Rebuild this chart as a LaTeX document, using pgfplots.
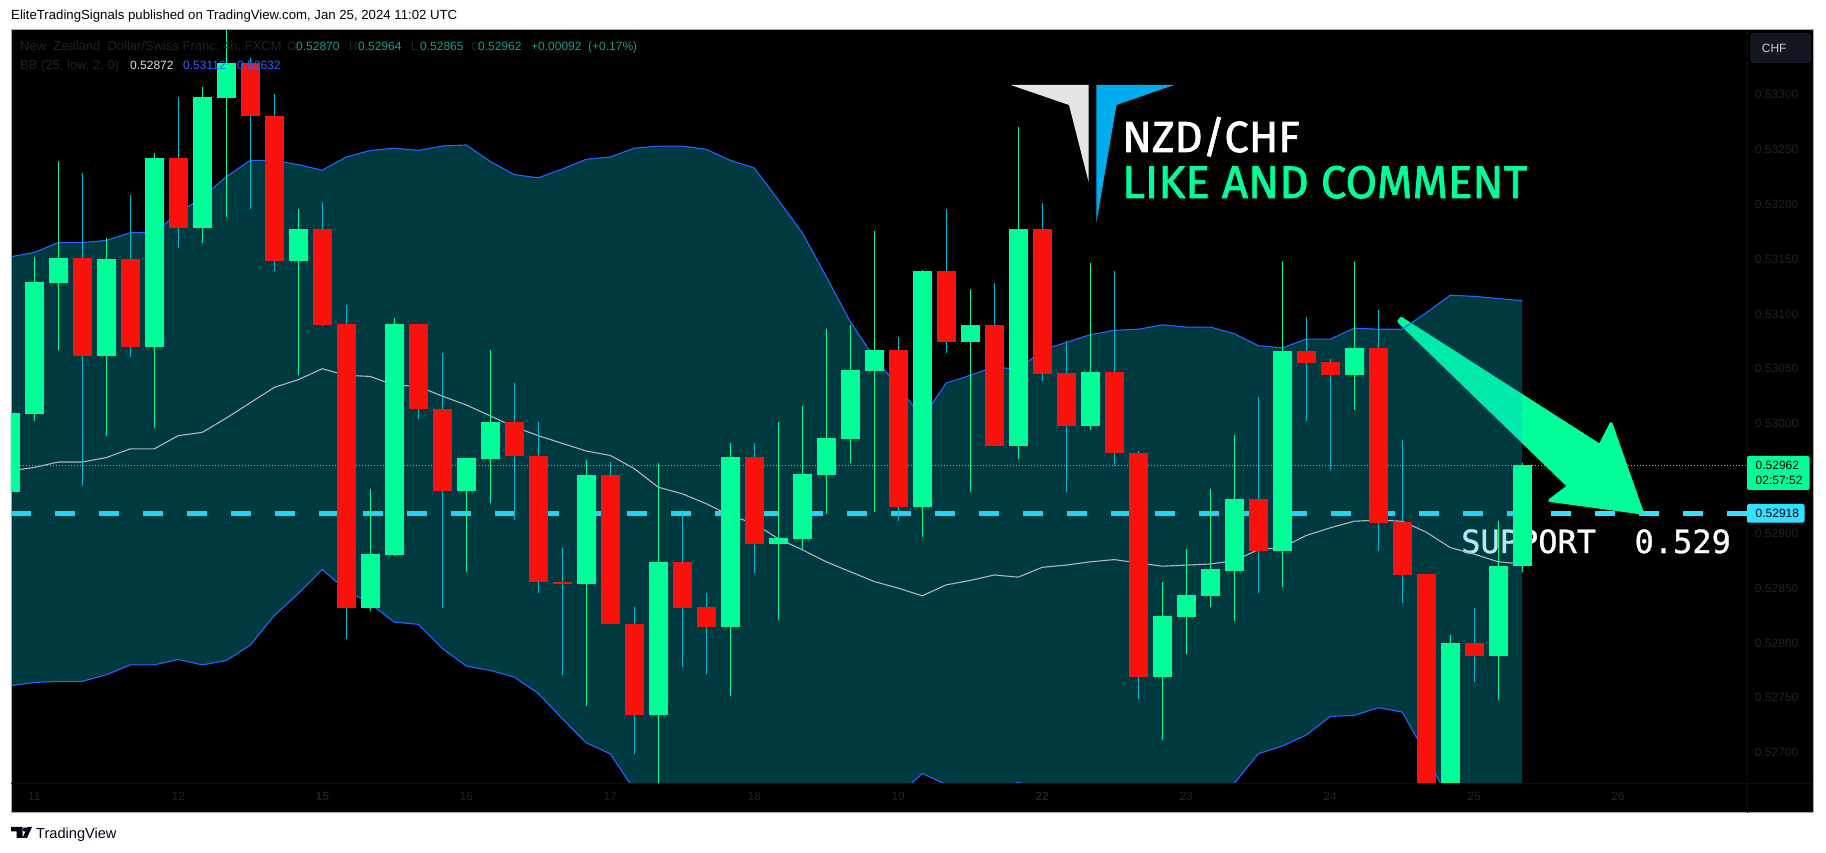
\documentclass[border=0pt]{standalone}
\usepackage{fontspec}
\usepackage{pgfplots}
\usepackage{pgfplotstable}
\pgfplotsset{compat=1.18}
\setmainfont{Liberation Sans}
\newfontfamily\annot{Fira Sans}[FakeBold=1.6]
\newfontfamily\supp{DejaVu Sans Mono}[FakeBold=0.9]
\definecolor{cgreen}{RGB}{0,255,153}
\definecolor{cred}{RGB}{247,18,13}
\definecolor{wred}{RGB}{0,188,212}
\definecolor{bbblue}{RGB}{41,98,255}
\definecolor{bbgray}{RGB}{178,181,190}
\definecolor{dashc}{RGB}{51,224,255}
\definecolor{darklab}{RGB}{30,34,42}
\definecolor{valc}{RGB}{26,158,134}
\definecolor{framec}{RGB}{170,170,170}
\definecolor{logoblue}{RGB}{0,173,236}
\definecolor{btnfill}{RGB}{19,23,34}
\definecolor{btndraw}{RGB}{42,46,57}
\pgfplotstableread{
i o h l c
0 0.52938 0.53010 0.52938 0.53010
1 0.53009 0.53152 0.53002 0.53129
2 0.53128 0.53239 0.53067 0.53151
4 0.53062 0.53169 0.52989 0.53150
6 0.53070 0.53247 0.52996 0.53242
8 0.53178 0.53307 0.53165 0.53298
9 0.53297 0.53362 0.53188 0.53329
12 0.53148 0.53196 0.53044 0.53177
15 0.52832 0.52940 0.52829 0.52881
16 0.52880 0.53096 0.52879 0.53091
19 0.52939 0.52969 0.52865 0.52969
20 0.52968 0.53067 0.52928 0.53001
24 0.52854 0.52967 0.52743 0.52953
27 0.52734 0.52964 0.52660 0.52874
30 0.52815 0.52982 0.52752 0.52970
32 0.52890 0.53001 0.52821 0.52896
33 0.52895 0.53016 0.52885 0.52954
34 0.52953 0.53086 0.52918 0.52987
35 0.52986 0.53090 0.52964 0.53049
36 0.53048 0.53176 0.52919 0.53067
38 0.52924 0.53140 0.52897 0.53139
40 0.53074 0.53123 0.52938 0.53090
42 0.52980 0.53270 0.52968 0.53177
45 0.52998 0.53146 0.52994 0.53047
48 0.52769 0.52856 0.52712 0.52825
49 0.52824 0.52886 0.52790 0.52844
50 0.52843 0.52940 0.52833 0.52867
51 0.52866 0.52990 0.52820 0.52931
53 0.52884 0.53148 0.52851 0.53066
56 0.53044 0.53148 0.53012 0.53069
60 0.52660 0.52807 0.52650 0.52800
62 0.52788 0.52911 0.52748 0.52870
63 0.52870 0.52964 0.52865 0.52962
}\greentab
\pgfplotstableread{
i o h l c
3 0.53151 0.53228 0.52943 0.53062
5 0.53150 0.53208 0.53061 0.53070
7 0.53242 0.53298 0.53160 0.53178
10 0.53329 0.53333 0.53196 0.53280
11 0.53280 0.53300 0.53139 0.53148
13 0.53177 0.53202 0.53089 0.53090
14 0.53091 0.53108 0.52804 0.52832
17 0.53091 0.53091 0.53004 0.53013
18 0.53013 0.53064 0.52832 0.52939
21 0.53001 0.53037 0.52912 0.52970
22 0.52970 0.53001 0.52846 0.52856
23 0.52856 0.52887 0.52771 0.52854
25 0.52953 0.52965 0.52817 0.52817
26 0.52817 0.52833 0.52699 0.52734
28 0.52874 0.52921 0.52778 0.52832
29 0.52833 0.52846 0.52772 0.52815
31 0.52970 0.52982 0.52864 0.52890
37 0.53067 0.53079 0.52911 0.52924
39 0.53139 0.53196 0.53064 0.53074
41 0.53090 0.53128 0.52980 0.52980
43 0.53177 0.53201 0.53039 0.53045
44 0.53046 0.53075 0.52938 0.52998
46 0.53047 0.53139 0.52961 0.52973
47 0.52973 0.52975 0.52749 0.52769
52 0.52931 0.53024 0.52846 0.52884
54 0.53066 0.53097 0.53002 0.53055
55 0.53056 0.53059 0.52958 0.53044
57 0.53069 0.53104 0.52884 0.52909
58 0.52910 0.52985 0.52836 0.52862
59 0.52863 0.52863 0.52650 0.52660
61 0.52800 0.52832 0.52764 0.52788
}\redtab
\pgfplotstableread{
i upper basis lower
0 0.53152 0.52957 0.52761
1 0.53156 0.52960 0.52764
2 0.53165 0.52965 0.52765
3 0.53165 0.52965 0.52765
4 0.53167 0.52969 0.52771
5 0.53174 0.52977 0.52780
6 0.53174 0.52977 0.52780
7 0.53192 0.52989 0.52785
8 0.53206 0.52992 0.52780
9 0.53225 0.53005 0.52784
10 0.53240 0.53019 0.52798
11 0.53240 0.53033 0.52825
12 0.53236 0.53040 0.52845
13 0.53231 0.53050 0.52867
14 0.53243 0.53044 0.52848
15 0.53249 0.53043 0.52836
16 0.53251 0.53035 0.52819
17 0.53249 0.53034 0.52817
18 0.53253 0.53025 0.52795
19 0.53254 0.53017 0.52779
20 0.53239 0.53007 0.52775
21 0.53227 0.52997 0.52769
22 0.53224 0.52989 0.52754
23 0.53232 0.52982 0.52731
24 0.53241 0.52975 0.52709
25 0.53243 0.52971 0.52699
26 0.53251 0.52959 0.52666
27 0.53253 0.52942 0.52652
28 0.53253 0.52936 0.52643
29 0.53250 0.52927 0.52634
30 0.53240 0.52916 0.52630
31 0.53233 0.52909 0.52634
32 0.53204 0.52895 0.52639
33 0.53174 0.52885 0.52643
34 0.53134 0.52874 0.52646
35 0.53093 0.52865 0.52650
36 0.53060 0.52856 0.52655
37 0.53034 0.52850 0.52661
38 0.53005 0.52843 0.52681
39 0.53037 0.52853 0.52671
40 0.53044 0.52857 0.52668
41 0.53052 0.52862 0.52666
42 0.53049 0.52860 0.52673
43 0.53067 0.52869 0.52666
44 0.53074 0.52871 0.52661
45 0.53081 0.52874 0.52659
46 0.53085 0.52876 0.52657
47 0.53086 0.52873 0.52652
48 0.53090 0.52870 0.52643
49 0.53088 0.52871 0.52648
50 0.53088 0.52872 0.52660
51 0.53082 0.52875 0.52672
52 0.53071 0.52885 0.52699
53 0.53069 0.52887 0.52706
54 0.53077 0.52898 0.52716
55 0.53077 0.52905 0.52733
56 0.53087 0.52911 0.52734
57 0.53086 0.52912 0.52741
58 0.53086 0.52911 0.52737
59 0.53101 0.52901 0.52698
60 0.53117 0.52887 0.52654
61 0.53116 0.52881 0.52643
62 0.53114 0.52874 0.52637
63 0.53112 0.52872 0.52632
}\bbtab
\pgfplotstableread{
i edge
0 0.53152
1 0.53156
2 0.53165
3 0.53165
4 0.53167
5 0.53174
6 0.53174
7 0.53192
8 0.53206
9 0.53225
10 0.53240
11 0.53240
12 0.53236
13 0.53231
14 0.53243
15 0.53249
16 0.53251
17 0.53249
18 0.53253
19 0.53254
20 0.53239
21 0.53227
22 0.53224
23 0.53232
24 0.53241
25 0.53243
26 0.53251
27 0.53253
28 0.53253
29 0.53250
30 0.53240
31 0.53233
32 0.53204
33 0.53174
34 0.53134
35 0.53093
36 0.53060
37 0.53034
38 0.53005
39 0.53037
40 0.53044
41 0.53052
42 0.53049
43 0.53067
44 0.53074
45 0.53081
46 0.53085
47 0.53086
48 0.53090
49 0.53088
50 0.53088
51 0.53082
52 0.53071
53 0.53069
54 0.53077
55 0.53077
56 0.53087
57 0.53086
58 0.53086
59 0.53101
60 0.53117
61 0.53116
62 0.53114
63 0.53112
63 0.52632
62 0.52637
61 0.52643
60 0.52654
59 0.52698
58 0.52737
57 0.52741
56 0.52734
55 0.52733
54 0.52716
53 0.52706
52 0.52699
51 0.52672
50 0.52660
49 0.52648
48 0.52643
47 0.52652
46 0.52657
45 0.52659
44 0.52661
43 0.52666
42 0.52673
41 0.52666
40 0.52668
39 0.52671
38 0.52681
37 0.52661
36 0.52655
35 0.52650
34 0.52646
33 0.52643
32 0.52639
31 0.52634
30 0.52630
29 0.52634
28 0.52643
27 0.52652
26 0.52666
25 0.52699
24 0.52709
23 0.52731
22 0.52754
21 0.52769
20 0.52775
19 0.52779
18 0.52795
17 0.52817
16 0.52819
15 0.52836
14 0.52848
13 0.52867
12 0.52845
11 0.52825
10 0.52798
9 0.52784
8 0.52780
7 0.52785
6 0.52780
5 0.52780
4 0.52771
3 0.52765
2 0.52765
1 0.52764
0 0.52761
}\bandtab
\begin{document}
\begin{tikzpicture}[x=1pt,y=1pt]
\fill[white] (0,0) rectangle (1826,853);
\fill[black] (11,40) rectangle (1813.5,823);
\begin{axis}[
  at={(11pt,70pt)}, anchor=south west,
  width=1736pt, height=753pt, scale only axis,
  xmin=0.0304, xmax=72.364,
  ymin=0.5267237, ymax=0.5335881,
  axis line style={draw=none},
  tick style={draw=none},
  xtick pos=bottom, ytick pos=right,
  ytick={0.527,0.5275,0.528,0.5285,0.529,0.53,0.5305,0.531,0.5315,0.532,0.5325,0.533},
  scaled y ticks=false,
  yticklabel style={/pgf/number format/.cd,fixed,fixed zerofill,precision=5,assume math mode=true,/tikz/.cd,font=\fontsize{12}{14}\selectfont,text=darklab,anchor=west,xshift=4.5pt},
  xtick={1,7,13,19,25,31,37,43,49,55,61,67},
  xticklabels={11,12,\textbf{15},16,17,18,19,\textbf{22},23,24,25,26},
  xticklabel style={font=\fontsize{12}{14}\selectfont,text=darklab,yshift=-6pt},
]
% price lines, under the band fill
\addplot[forget plot,color=dashc,line width=4.3pt,dash pattern=on 20pt off 24pt] coordinates {(0.0304,0.52918) (72.364,0.52918)};
\addplot[forget plot,color=cgreen,line width=1pt,dash pattern=on 1pt off 2pt] coordinates {(0.0304,0.52962) (72.364,0.52962)};
% drawn arrow and its text, under the band fill
\addplot[forget plot,fill=cgreen,draw=cgreen,line width=3pt,line join=round] coordinates {
 (57.95,0.53096) (66.24,0.52980) (66.70,0.53000) (68.00,0.52919) (67.82,0.52919) (64.15,0.52930) (64.93,0.52943) (57.86,0.53093)} -- cycle;
\node[anchor=base west,inner sep=0pt,text=white,font=\supp\fontsize{32}{36}\selectfont] at (axis cs:60.45,0.52882) {SUPPORT\ \ 0.529};
% Bollinger band
\addplot[forget plot,draw=none,fill=wred,fill opacity=0.31] table[x=i,y=edge]{\bandtab} -- cycle;
\addplot[forget plot,color=bbblue,line width=1.1pt] table[x=i,y=upper]{\bbtab};
\addplot[forget plot,color=bbblue,line width=1.1pt] table[x=i,y=lower]{\bbtab};
\addplot[forget plot,color=bbgray,line width=1.1pt] table[x=i,y=basis]{\bbtab};
% wicks
\addplot[forget plot,draw=none,mark=none,error bars/.cd,y dir=both,y explicit,error mark=none,error bar style={line width=1pt,color=cgreen}]
 table[x=i,y=c,y error plus expr=\thisrow{h}-\thisrow{c},y error minus expr=\thisrow{c}-\thisrow{l}]{\greentab};
\addplot[forget plot,draw=none,mark=none,error bars/.cd,y dir=both,y explicit,error mark=none,error bar style={line width=1pt,color=wred}]
 table[x=i,y=c,y error plus expr=\thisrow{h}-\thisrow{c},y error minus expr=\thisrow{c}-\thisrow{l}]{\redtab};
% bodies
\addplot[forget plot,draw=none,mark=none,error bars/.cd,y dir=plus,y explicit,error mark=none,error bar style={line width=19pt,color=cgreen}]
 table[x=i,y=o,y error plus expr=\thisrow{c}-\thisrow{o}]{\greentab};
\addplot[forget plot,draw=none,mark=none,error bars/.cd,y dir=plus,y explicit,error mark=none,error bar style={line width=19pt,color=cred}]
 table[x=i,y=c,y error plus expr=\thisrow{o}-\thisrow{c}]{\redtab};
\end{axis}
% frame
\draw[framec,line width=1pt] (11,40) rectangle (1813.5,823);
\draw[black!95!white,line width=.6pt] (1747,40) -- (1747,823) (11,70) -- (1813,70);
% header and footer
\node[anchor=base west,inner sep=0pt,font=\fontsize{13.2}{15}\selectfont] at (11,833) {EliteTradingSignals published on TradingView.com, Jan 25, 2024 11:02 UTC};
\fill[black!90!blue] (11,26) rectangle (22.5,21.5) (16.5,26) rectangle (22.5,15) ;
\fill[black!90!blue] (25,23.5) circle (2.2);
\fill[black!90!blue] (32,26) -- (27,15) -- (22.5,15) -- (27.5,26) -- cycle;
\node[anchor=base west,inner sep=0pt,font=\fontsize{14.6}{17}\selectfont,text=black!90!blue] at (36,14) {TradingView};
% legend
\def\lf{\fontsize{12}{14}\selectfont}
\tikzset{lg/.style={anchor=base west,inner sep=0pt,font=\lf}}
\node[lg,text=darklab,font=\fontsize{13}{14}\selectfont] at (20,802.5) {New\ \ Zealand\ \ Dollar/Swiss\ Franc,\ 4h,\ FXCM};
\node[lg,text=darklab] at (287,802.5) {O};
\node[lg,text=valc] at (296,802.5) {0.52870};
\node[lg,text=darklab] at (349,802.5) {H};
\node[lg,text=valc] at (358,802.5) {0.52964};
\node[lg,text=darklab] at (411,802.5) {L};
\node[lg,text=valc] at (420,802.5) {0.52865};
\node[lg,text=darklab] at (471,802.5) {C};
\node[lg,text=valc] at (478,802.5) {0.52962};
\node[lg,text=valc] at (531,802.5) {+0.00092};
\node[lg,text=valc] at (588,802.5) {(+0.17\%)};
\node[lg,text=darklab,font=\fontsize{13}{14}\selectfont] at (20,783) {BB (25, low, 2, 0)};
\node[lg,text=white!88!black] at (130,783) {0.52872};
\node[lg,text=bbblue] at (183,783) {0.53112};
\node[lg,text=bbblue] at (237,783) {0.52632};
% logo and title
\fill[white!90!black] (1010.7,768) -- (1088.5,768) -- (1088.5,671.3) -- (1069,748) -- cycle;
\fill[logoblue] (1096.3,768) -- (1174,768) -- (1116.5,748) -- (1096.3,629.7) -- cycle;
\node[anchor=base west,inner sep=0pt,text=white,font=\annot\fontsize{43.5}{50}\selectfont] at (1122,701) {NZD/CHF};
\node[anchor=base west,inner sep=0pt,text=cgreen,font=\annot\fontsize{45.7}{50}\selectfont] at (1122,655) {LIKE AND COMMENT};
% currency button
\draw[rounded corners=4pt,fill=btnfill,draw=btndraw] (1750.7,790) rectangle (1810.7,820);
\node[anchor=west,inner sep=0pt,text=white!80!black,font=\fontsize{12}{14}\selectfont] at (1761.7,804.7) {CHF};
% price labels
\fill[cgreen,rounded corners=2pt] (1747,363) rectangle (1809.6,397);
\node[lg,text=black] at (1755.5,383) {0.52962};
\node[lg,text=black] at (1755.5,368) {02:57:52};
\fill[dashc,rounded corners=2pt] (1747,330.3) rectangle (1804.5,349);
\node[lg,text=black] at (1755.5,335.5) {0.52918};
\end{tikzpicture}
\end{document}
